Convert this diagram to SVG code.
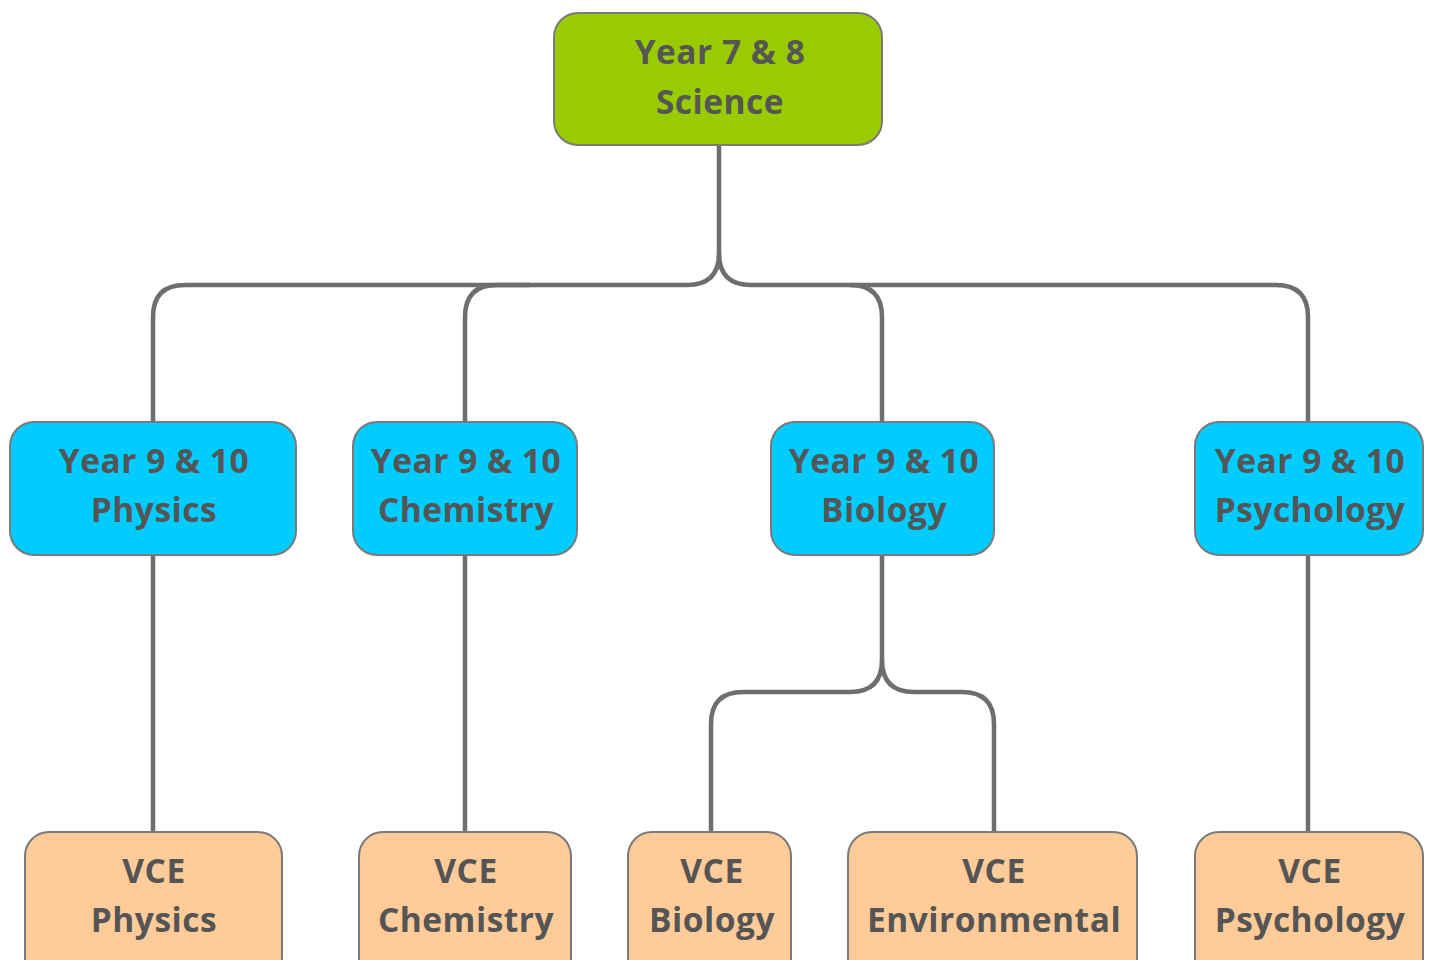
<svg xmlns="http://www.w3.org/2000/svg" width="1432" height="960" viewBox="0 0 1432 960">
<style>
.n rect{stroke:#7a7a7a;stroke-width:2}
.top rect{fill:#99cc00}
.mid rect{fill:#00ccff}
.bot rect{fill:#ffcc99}
text{font-family:"Open Sans","Noto Sans","DejaVu Sans",sans-serif;font-weight:bold;font-size:33.5px;letter-spacing:0.5px;fill:#555555;text-anchor:middle}
.c path{fill:none;stroke:#6e6e6e;stroke-width:4.5}
</style>
<rect width="1432" height="960" fill="#ffffff"/>
<g class="c" id="connectors">
<path d="M719,145 V253 Q719,285 687,285 H185 Q153,285 153,317 V422"/>
<path d="M530,285 H497 Q465,285 465,317 V422"/>
<path d="M719,253 Q719,285 751,285 H1276 Q1308,285 1308,317 V422"/>
<path d="M850,285 Q882,285 882,317 V422"/>
<path d="M153,555 V832"/>
<path d="M465,555 V832"/>
<path d="M1308,555 V832"/>
<path d="M882,555 V660 Q882,692 850,692 H743 Q711,692 711,724 V832"/>
<path d="M882,660 Q882,692 914,692 H962 Q994,692 994,724 V832"/>
</g>
<g id="n-top" class="n top"><rect x="554" y="13" width="328" height="132" rx="24"/><text x="720" y="64">Year 7 &amp; 8</text><text x="720" y="114">Science</text></g>
<g id="n-y9-physics" class="n mid"><rect x="10" y="422" width="286" height="133" rx="24"/><text x="154" y="473">Year 9 &amp; 10</text><text x="154" y="522">Physics</text></g>
<g id="n-y9-chemistry" class="n mid"><rect x="353" y="422" width="224" height="133" rx="24"/><text x="466" y="473">Year 9 &amp; 10</text><text x="466" y="522">Chemistry</text></g>
<g id="n-y9-biology" class="n mid"><rect x="771" y="422" width="223" height="133" rx="24"/><text x="884" y="473">Year 9 &amp; 10</text><text x="884" y="522">Biology</text></g>
<g id="n-y9-psychology" class="n mid"><rect x="1195" y="422" width="228" height="133" rx="24"/><text x="1310" y="473">Year 9 &amp; 10</text><text x="1310" y="522">Psychology</text></g>
<g id="n-vce-physics" class="n bot"><rect x="25" y="832" width="257" height="150" rx="24"/><text x="154" y="883">VCE</text><text x="154" y="932">Physics</text></g>
<g id="n-vce-chemistry" class="n bot"><rect x="359" y="832" width="212" height="150" rx="24"/><text x="466" y="883">VCE</text><text x="466" y="932">Chemistry</text></g>
<g id="n-vce-biology" class="n bot"><rect x="628" y="832" width="163" height="150" rx="24"/><text x="712" y="883">VCE</text><text x="712" y="932">Biology</text></g>
<g id="n-vce-environmental" class="n bot"><rect x="848" y="832" width="289" height="150" rx="24"/><text x="994" y="883">VCE</text><text x="994" y="932">Environmental</text></g>
<g id="n-vce-psychology" class="n bot"><rect x="1195" y="832" width="228" height="150" rx="24"/><text x="1310" y="883">VCE</text><text x="1310" y="932">Psychology</text></g>
</svg>
